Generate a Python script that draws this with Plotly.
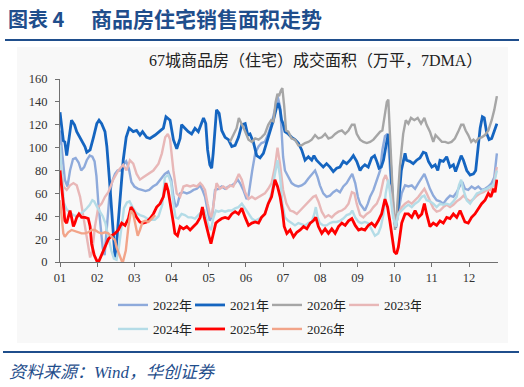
import plotly.graph_objects as go

# ---------------- data (x = month index, 0 = Jan 1st tick) ----------------
x_2022 = [0,0.06,0.13,0.2,0.27,0.35,0.42,0.5,0.57,0.65,0.72,0.8,0.87,0.93,0.98,1.03,1.1,1.15,1.2,1.26,1.33,1.4,1.48,1.55,1.62,1.7,1.78,1.85,1.92,2.0,2.1,2.2,2.3,2.4,2.5,2.6,2.7,2.82,2.91,2.99,3.05,3.11,3.16,3.23,3.32,3.41,3.5,3.59,3.68,3.77,3.83,3.9,3.97,4.03,4.1,4.17,4.26,4.35,4.44,4.53,4.62,4.71,4.78,4.84,4.93,5.02,5.07,5.11,5.17,5.25,5.34,5.42,5.51,5.6,5.69,5.78,5.85,5.92,5.96,6.0,6.05,6.14,6.23,6.32,6.41,6.5,6.59,6.68,6.77,6.86,6.93,6.99,7.08,7.17,7.26,7.35,7.44,7.53,7.62,7.71,7.8,7.86,7.94,8.01,8.07,8.13,8.2,8.28,8.34,8.43,8.52,8.61,8.67,8.74,8.81,8.87,8.96,9.03,9.1,9.19,9.28,9.37,9.46,9.55,9.64,9.73,9.8,9.86,9.95,10.04,10.13,10.22,10.31,10.4,10.49,10.58,10.67,10.76,10.82,10.89,10.98,11.07,11.16,11.25,11.34,11.43,11.52,11.61,11.68,11.75]
y_2022 = [115,95,72,66,80,90,91,87,80,83,89,93,92,88,75,52,30,12,6,28,58,70,77,80,80,85,88,82,70,66,64,63,62,63,66,68,72,77,79,72,57,48,50,60,61,60,61,63,64,67,63,57,45,36,42,63,64,66,64,66,67,69,72,69,63,55,58,69,80,95,101,104,105,112,121,133,145,136,115,92,80,74,69,67,66,67,69,73,77,80,74,67,60,57,58,61,63,61,66,69,74,77,69,57,51,48,45,51,57,63,72,80,98,110,112,80,42,31,45,60,67,66,67,64,69,73,77,72,64,58,54,53,51,55,58,57,61,67,70,64,63,66,64,66,63,64,66,69,74,95]

x_2021 = [0,0.09,0.13,0.18,0.31,0.39,0.45,0.54,0.67,0.72,0.81,0.9,0.99,1.05,1.12,1.21,1.26,1.33,1.41,1.48,1.52,1.61,1.7,1.78,1.86,1.97,2.06,2.15,2.22,2.33,2.42,2.56,2.69,2.78,2.85,2.96,3.05,3.14,3.23,3.27,3.36,3.45,3.54,3.63,3.72,3.79,3.86,3.92,3.97,4.03,4.08,4.12,4.17,4.21,4.28,4.35,4.44,4.53,4.62,4.71,4.8,4.89,4.98,5.05,5.11,5.2,5.29,5.38,5.47,5.56,5.65,5.74,5.83,5.87,5.92,5.96,6.0,6.05,6.14,6.23,6.32,6.41,6.5,6.59,6.68,6.77,6.83,6.9,6.99,7.08,7.17,7.26,7.35,7.44,7.53,7.62,7.71,7.8,7.89,7.98,8.07,8.13,8.2,8.29,8.38,8.46,8.52,8.58,8.64,8.7,8.77,8.83,8.87,8.96,9.03,9.1,9.18,9.28,9.32,9.41,9.5,9.59,9.68,9.77,9.84,9.91,10.0,10.09,10.16,10.22,10.31,10.4,10.49,10.58,10.64,10.71,10.79,10.85,10.94,11.03,11.12,11.18,11.23,11.3,11.36,11.41,11.48,11.54,11.61,11.68,11.75]
y_2021 = [131,106,105,93,124,120,114,109,101,96,98,109,121,124,121,114,101,72,36,4,16,51,89,109,117,114,115,111,114,109,108,111,115,117,127,124,107,99,108,120,117,114,112,117,114,120,126,121,98,85,82,95,121,133,130,115,109,107,101,102,109,120,121,111,112,105,93,91,95,104,115,124,136,139,133,124,121,114,112,109,107,104,98,89,92,89,93,89,86,83,86,83,79,82,83,88,86,89,93,88,80,83,85,83,91,93,88,82,83,89,102,112,98,45,30,50,80,95,89,88,86,89,91,96,95,88,83,85,80,89,88,92,83,85,79,85,93,89,80,76,77,80,95,117,127,126,112,107,108,115,121]

x_2020 = [4.57,4.66,4.75,4.81,4.89,4.98,5.07,5.16,5.25,5.34,5.42,5.51,5.6,5.68,5.74,5.8,5.85,5.89,5.94,5.98,6.03,6.08,6.14,6.23,6.32,6.41,6.5,6.59,6.68,6.77,6.86,6.95,7.04,7.13,7.22,7.31,7.4,7.49,7.58,7.67,7.76,7.85,7.92,7.98,8.07,8.16,8.25,8.34,8.43,8.52,8.61,8.67,8.72,8.79,8.83,8.87,8.94,9.01,9.05,9.14,9.23,9.3,9.37,9.44,9.53,9.62,9.71,9.8,9.86,9.95,10.04,10.1,10.18,10.27,10.36,10.44,10.53,10.62,10.71,10.79,10.85,10.91,10.98,11.06,11.12,11.18,11.25,11.34,11.43,11.52,11.61,11.68,11.75]
y_2020 = [105,111,117,126,121,114,107,105,108,107,109,112,120,124,123,140,147,145,150,152,136,115,114,108,107,102,102,104,105,107,111,108,109,112,108,109,112,114,115,112,115,120,120,112,107,105,104,105,107,111,114,115,127,140,142,109,66,28,39,83,112,124,121,126,124,126,121,126,120,114,105,111,108,105,105,104,105,108,114,120,120,115,111,105,107,105,108,109,111,115,124,133,145]

x_2023 = [0,0.09,0.18,0.27,0.36,0.45,0.54,0.63,0.72,0.81,0.87,0.94,1.03,1.12,1.21,1.3,1.43,1.57,1.7,1.79,1.88,1.97,2.06,2.15,2.24,2.38,2.51,2.65,2.74,2.83,2.9,2.96,3.05,3.14,3.23,3.32,3.41,3.5,3.59,3.68,3.77,3.83,3.9,3.97,4.03,4.08,4.15,4.21,4.3,4.39,4.48,4.57,4.66,4.75,4.81,4.89,4.98,5.07,5.16,5.25,5.34,5.42,5.51,5.6,5.69,5.78,5.85,5.92,6.0,6.09,6.19,6.28,6.37,6.46,6.55,6.64,6.73,6.81,6.88,6.95,7.04,7.13,7.22,7.31,7.4,7.49,7.58,7.67,7.76,7.85,7.92,7.98,8.07,8.16,8.25,8.34,8.43,8.52,8.61,8.7,8.76,8.83,8.87,8.96,9.03,9.1,9.19,9.28,9.37,9.46,9.55,9.64,9.73,9.8,9.86,9.95,10.04,10.13,10.22,10.31,10.4,10.49,10.58,10.67,10.76,10.85,10.94,11.03,11.12,11.21,11.3,11.39,11.48,11.57,11.66,11.75]
y_2023 = [92,66,63,67,69,67,57,39,19,4,10,31,48,51,57,61,72,80,85,80,89,86,77,72,74,77,80,86,95,109,112,107,80,60,57,66,67,66,67,66,69,67,63,51,42,39,57,69,64,66,64,67,66,72,77,72,61,55,57,55,57,58,60,64,69,83,100,85,63,51,45,44,42,45,48,51,54,57,58,53,44,39,41,39,42,44,45,47,51,61,60,51,41,39,42,44,48,51,58,72,76,70,66,42,31,42,48,51,53,51,54,57,61,64,60,53,47,44,45,48,50,48,50,53,55,58,55,53,55,58,60,61,63,63,67,83]

x_2024 = [0,0.05,0.1,0.18,0.27,0.36,0.45,0.54,0.63,0.72,0.8,0.87,0.92,1.0,1.08,1.15,1.22,1.3,1.38,1.45,1.52,1.58,1.65,1.72,1.8,1.87,1.95,2.05,2.15,2.25,2.35,2.45,2.55,2.65,2.75,2.82,2.91,2.99,3.05,3.11,3.18,3.27,3.36,3.45,3.54,3.63,3.72,3.81,3.88,3.94,4.0,4.06,4.12,4.19,4.26,4.35,4.44,4.53,4.62,4.71,4.8,4.89,4.98,5.07,5.16,5.25,5.34,5.42,5.51,5.6,5.69,5.78,5.85,5.92,5.98,6.05,6.14,6.23,6.32,6.41,6.5,6.59,6.68,6.77,6.84,6.88,6.93,6.99,7.08,7.17,7.26,7.35,7.44,7.53,7.62,7.71,7.8,7.86,7.94,8.03,8.11,8.2,8.29,8.38,8.47,8.56,8.63,8.7,8.76,8.83,8.87,8.96,9.03,9.1,9.19,9.28,9.37,9.46,9.55,9.64,9.73,9.8,9.86,9.95,10.04,10.13,10.22,10.31,10.4,10.49,10.58,10.67,10.73,10.79,10.85,10.94,11.03,11.12,11.21,11.3,11.39,11.48,11.57,11.66,11.75]
y_2024 = [102,72,52,46,43,41,40,42,44,47,50,54,53,48,44,40,34,22,10,3,2,12,32,47,52,53,48,43,41,40,38,37,37,40,50,74,76,69,51,39,38,42,41,39,39,38,41,44,45,39,31,28,38,45,44,45,44,45,45,47,48,51,47,42,38,36,38,39,42,51,60,77,89,74,51,39,36,34,32,34,33,32,34,35,42,48,39,34,32,32,34,35,35,36,38,41,42,45,39,35,34,35,34,28,23,25,31,42,60,72,63,39,31,42,45,48,50,48,51,53,57,58,54,53,51,48,51,50,51,50,53,57,67,72,63,54,51,55,60,61,63,64,66,67,80]

x_2025 = [0,0.04,0.09,0.13,0.18,0.22,0.27,0.31,0.36,0.4,0.45,0.51,0.58,0.67,0.76,0.81,0.85,0.92,0.99,1.05,1.12,1.21,1.3,1.39,1.48,1.57,1.66,1.75,1.84,1.91,1.97,2.06,2.15,2.24,2.33,2.42,2.51,2.6,2.69,2.78,2.85,2.91,2.99,3.05,3.09,3.16,3.23,3.32,3.41,3.5,3.59,3.68,3.77,3.83,3.88,3.95,4.01,4.06,4.12,4.19,4.26,4.35,4.44,4.53,4.62,4.71,4.8,4.89,4.98,5.07,5.16,5.25,5.34,5.42,5.51,5.6,5.69,5.78,5.85,5.92,5.98,6.03,6.1,6.19,6.28,6.37,6.46,6.55,6.64,6.73,6.81,6.88,6.95,7.04,7.13,7.22,7.31,7.4,7.49,7.58,7.67,7.76,7.85,7.94,8.03,8.11,8.2,8.29,8.38,8.47,8.56,8.65,8.74,8.81,8.87,8.94,8.99,9.05,9.1,9.19,9.28,9.37,9.46,9.55,9.64,9.73,9.8,9.86,9.95,10.04,10.13,10.22,10.31,10.4,10.49,10.58,10.67,10.76,10.82,10.89,10.98,11.07,11.16,11.25,11.34,11.43,11.52,11.59,11.66,11.7,11.75]
y_2025 = [80,69,51,36,34,39,45,39,31,34,39,42,39,39,38,31,16,6,1,1,6,13,20,23,25,28,34,32,38,48,45,39,35,34,35,38,42,48,51,57,69,62,48,34,25,23,31,29,31,28,31,34,39,48,39,31,22,16,25,34,36,38,39,38,42,44,42,47,39,32,34,35,34,39,42,51,57,72,66,57,45,31,25,28,22,26,28,31,29,34,36,39,31,25,29,25,29,25,31,34,32,36,38,32,28,29,28,32,34,31,36,42,55,48,36,22,9,7,13,34,42,42,39,45,39,42,51,42,31,34,32,36,34,39,38,42,39,45,41,35,34,39,42,47,51,54,60,57,64,61,72]

x_2026 = [0,0.04,0.09,0.13,0.22,0.31,0.4,0.49,0.58,0.67,0.76,0.85,0.94,1.03,1.12,1.21,1.3,1.39,1.48,1.52,1.59,1.66,1.7,1.77,1.84,1.91,1.97,2.04,2.09,2.15,2.22,2.29,2.38,2.47,2.56]
y_2026 = [54,39,25,22,26,28,27,26,25,25,26,28,28,26,25,26,25,22,19,13,6,1,1,10,31,45,42,31,23,28,35,36,35,38,41]

series_names = ["2022年", "2021年", "2020年", "2023年", "2024年", "2025年", "2026年"]
series_x = [x_2022, x_2021, x_2020, x_2023, x_2024, x_2025, x_2026]
series_y = [y_2022, y_2021, y_2020, y_2023, y_2024, y_2025, y_2026]
series_colors = ["#8EAADB", "#1565C0", "#A6A6A6", "#E8B7B7", "#B4DCE7", "#FF0000", "#F2A489"]
series_widths = [2.4, 2.8, 2.4, 2.4, 2.4, 2.8, 2.4]

month_ticks = ["01", "02", "03", "04", "05", "06", "07", "08", "09", "10", "11", "12"]

TITLE = "图表 4"
TITLE2 = "商品房住宅销售面积走势"
SUBTITLE = "67城商品房（住宅）成交面积（万平，7DMA）"
SOURCE = "资料来源：Wind，华创证券"

# ---------------- figure ----------------
W, H = 524, 387
ML, MR, MT, MB = 60, 26, 79, 125
PW, PH = W - ML - MR, H - MT - MB

def px(x):
    return (x - ML) / PW

def py(y):
    return (H - MB - y) / PH

SERIF = "Liberation Serif, Noto Sans CJK SC, serif"
DARK = "#1F4E8C"
AXIS = "#707070"

fig = go.Figure()
for i, (n, xs, ys, c, w) in enumerate(zip(series_names, series_x, series_y, series_colors, series_widths)):
    fig.add_trace(go.Scatter(
        x=xs, y=ys, name=n, mode="lines",
        line=dict(color=c, width=w),
        legend="legend" if i < 4 else "legend2",
        hoverinfo="skip",
    ))

legend_common = dict(
    orientation="h", font=dict(family=SERIF, size=13, color="#222222"),
    bgcolor="rgba(0,0,0,0)", entrywidth=32, entrywidthmode="pixels",
    xref="paper", yref="paper", xanchor="left", yanchor="middle",
    traceorder="normal", itemwidth=30,
)
fig.update_layout(
    width=W, height=H,
    margin=dict(l=ML, r=MR, t=MT, b=MB, autoexpand=False),
    paper_bgcolor="white", plot_bgcolor="rgba(0,0,0,0)",
    showlegend=True,
    legend=dict(x=px(113), y=py(305), **legend_common),
    legend2=dict(x=px(113), y=py(329), **legend_common),
    xaxis=dict(
        range=[0, 11.78], tickvals=list(range(12)), ticktext=month_ticks,
        showgrid=False, zeroline=False, showline=True, linecolor=AXIS, linewidth=1,
        ticks="outside", ticklen=4, tickcolor=AXIS,
        tickfont=dict(family=SERIF, size=12.5, color="#333333"), fixedrange=True,
    ),
    yaxis=dict(
        range=[0, 160], dtick=20, tick0=0,
        showgrid=False, zeroline=False, showline=True, linecolor=AXIS, linewidth=1,
        ticks="outside", ticklen=4, tickcolor=AXIS, ticklabelstandoff=5,
        tickfont=dict(family=SERIF, size=12.5, color="#333333"), fixedrange=True,
    ),
    shapes=[
        dict(type="rect", xref="paper", yref="paper", layer="below",
             x0=px(17), x1=px(508), y0=py(343), y1=py(47),
             fillcolor="#F8F8F8", line=dict(width=0)),
        dict(type="line", xref="paper", yref="paper",
             x0=px(5), x1=px(519), y0=py(40), y1=py(40),
             line=dict(color=DARK, width=2)),
        dict(type="line", xref="paper", yref="paper",
             x0=px(3), x1=px(519), y0=py(352), y1=py(352),
             line=dict(color=DARK, width=2)),
    ],
    annotations=[
        dict(text="<b>" + TITLE + "</b>", xref="paper", yref="paper", x=px(6), y=py(18),
             xanchor="left", yanchor="middle", showarrow=False,
             font=dict(family="Noto Sans CJK SC", size=20, color=DARK)),
        dict(text="<b>" + TITLE2 + "</b>", xref="paper", yref="paper", x=px(89), y=py(18),
             xanchor="left", yanchor="middle", showarrow=False,
             font=dict(family="Noto Sans CJK SC", size=21, color=DARK)),
        dict(text=SUBTITLE, xref="paper", yref="paper", x=px(315), y=py(60),
             xanchor="center", yanchor="middle", showarrow=False,
             font=dict(family=SERIF, size=16, color="#222222")),
        dict(text="<i>" + SOURCE + "</i>", xref="paper", yref="paper", x=px(7), y=py(372),
             xanchor="left", yanchor="middle", showarrow=False,
             font=dict(family="Liberation Serif, Noto Sans CJK SC", size=17, color=DARK)),
    ],
)

fig.write_html("out.html")
